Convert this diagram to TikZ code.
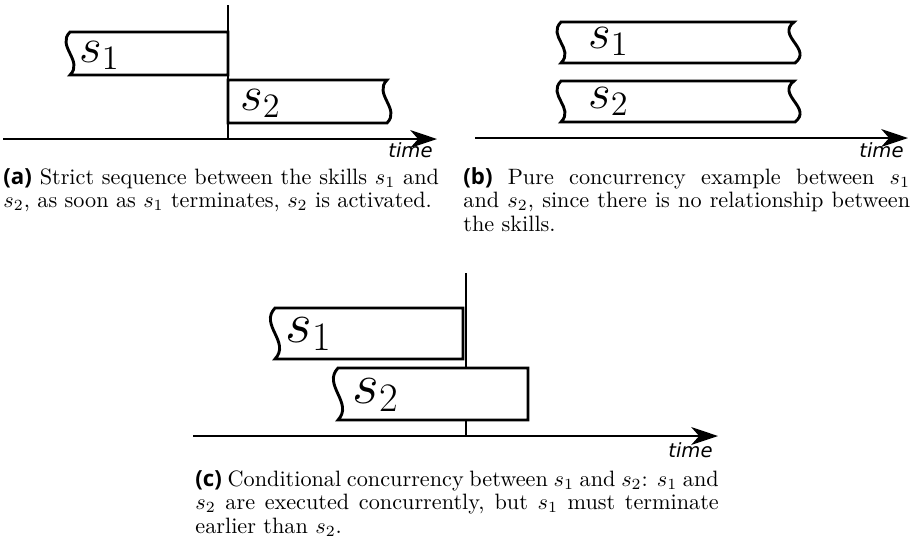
\RequirePackage{fix-cm}
\documentclass[tikz,border=0pt]{standalone}
\usepackage{amsmath}
\usepackage{fontspec}
\usepackage{tikz}
\usetikzlibrary{arrows.meta,positioning}
\newfontfamily\tagfont{Open Sans}
\newfontfamily\timefont{DejaVu Sans}
\newcommand{\subtag}[1]{{\tagfont\bfseries(#1)}}

\begin{document}
\begin{tikzpicture}[x=0.45pt,y=-0.45pt,>=Stealth,
  skill/.style={draw,fill=white,line width=1.3pt,line join=miter},
  slbl/.style={anchor=base west,inner sep=0pt,font=\fontsize{22}{26}\selectfont},
  tline/.style={draw,line width=1.3pt,-{Stealth[length=12pt,width=8pt,inset=3.5pt]}},
  endline/.style={draw,line width=0.8pt},
  timelbl/.style={anchor=base east,inner sep=0pt,font=\fontsize{8.8}{10}\timefont\itshape},
  captxt/.style={anchor=base west,inner sep=0pt,align=justify,font=\fontsize{10}{10.6}\selectfont}]
\useasboundingbox (0,0) rectangle (916,543);

% (a) strict sequence
\coordinate (ea0) at (228,5);
\coordinate (ea1) at (228,139);
\draw[endline] (ea0) -- (ea1);
\draw[skill] (70,32) -- (228,32) -- (228,75) -- (70,75)
  .. controls +(14,-14) and +(-14,14) .. cycle;
\draw[skill] (228,80) -- (387,80) .. controls +(-14,14) and +(14,-14) .. (387,123)
  -- (228,123) -- cycle;
\node[slbl] (s1a) at (79,62) {$s_1$};
\node[slbl] (s2a) at (240,110) {$s_2$};
\coordinate (ta0) at (3,139);
\coordinate (ta1) at (437,139);
\draw[tline] (ta0) -- (ta1);
\node[timelbl] (tma) at (433,157) {time};
\node[captxt,text width=196pt] (capa) at (3,184)
  {\subtag{a} Strict sequence between the skills $s_1$ and\linebreak
   $s_2$, as soon as $s_1$ terminates, $s_2$ is activated.};

% (b) pure concurrency
\draw[skill] (561,22) -- (794,22) .. controls +(-18,14) and +(18,-14) .. (795,63)
  -- (561,63) .. controls +(14,-14) and +(-14,14) .. cycle;
\draw[skill] (561,81) -- (794,81) .. controls +(-18,14) and +(18,-14) .. (795,122)
  -- (561,122) .. controls +(14,-14) and +(-14,14) .. cycle;
\node[slbl] (s1b) at (588,48) {$s_1$};
\node[slbl] (s2b) at (588,108) {$s_2$};
\coordinate (tb0) at (475,138);
\coordinate (tb1) at (908,138);
\draw[tline] (tb0) -- (tb1);
\node[timelbl] (tmb) at (904,157) {time};
\node[captxt,text width=201pt] (capb) at (463,184)
  {\subtag{b} Pure concurrency example between $s_1$\linebreak
   and $s_2$, since there is no relationship between\linebreak
   the skills.};

% (c) conditional concurrency
\coordinate (ec0) at (466,273);
\coordinate (ec1) at (466,436);
\draw[endline] (ec0) -- (ec1);
\draw[skill] (275,308) -- (463,308) -- (463,359) -- (275,359)
  .. controls +(16,-17) and +(-16,17) .. cycle;
\draw[skill] (338,368) -- (528,368) -- (528,420) -- (338,420)
  .. controls +(16,-17) and +(-16,17) .. cycle;
\node[slbl,font=\fontsize{26}{30}\selectfont] (s1c) at (285,342) {$s_1$};
\node[slbl,font=\fontsize{26}{30}\selectfont] (s2c) at (352,403) {$s_2$};
\coordinate (tc0) at (193,436);
\coordinate (tc1) at (718,436);
\draw[tline] (tc0) -- (tc1);
\node[timelbl] (tmc) at (713,457) {time};
\node[captxt,text width=235.5pt] (capc) at (195,486)
  {\subtag{c} Conditional concurrency between $s_1$ and $s_2$: $s_1$ and\linebreak
   $s_2$ are executed concurrently, but $s_1$ must terminate\linebreak
   earlier than $s_2$.};
\end{tikzpicture}
\end{document}
